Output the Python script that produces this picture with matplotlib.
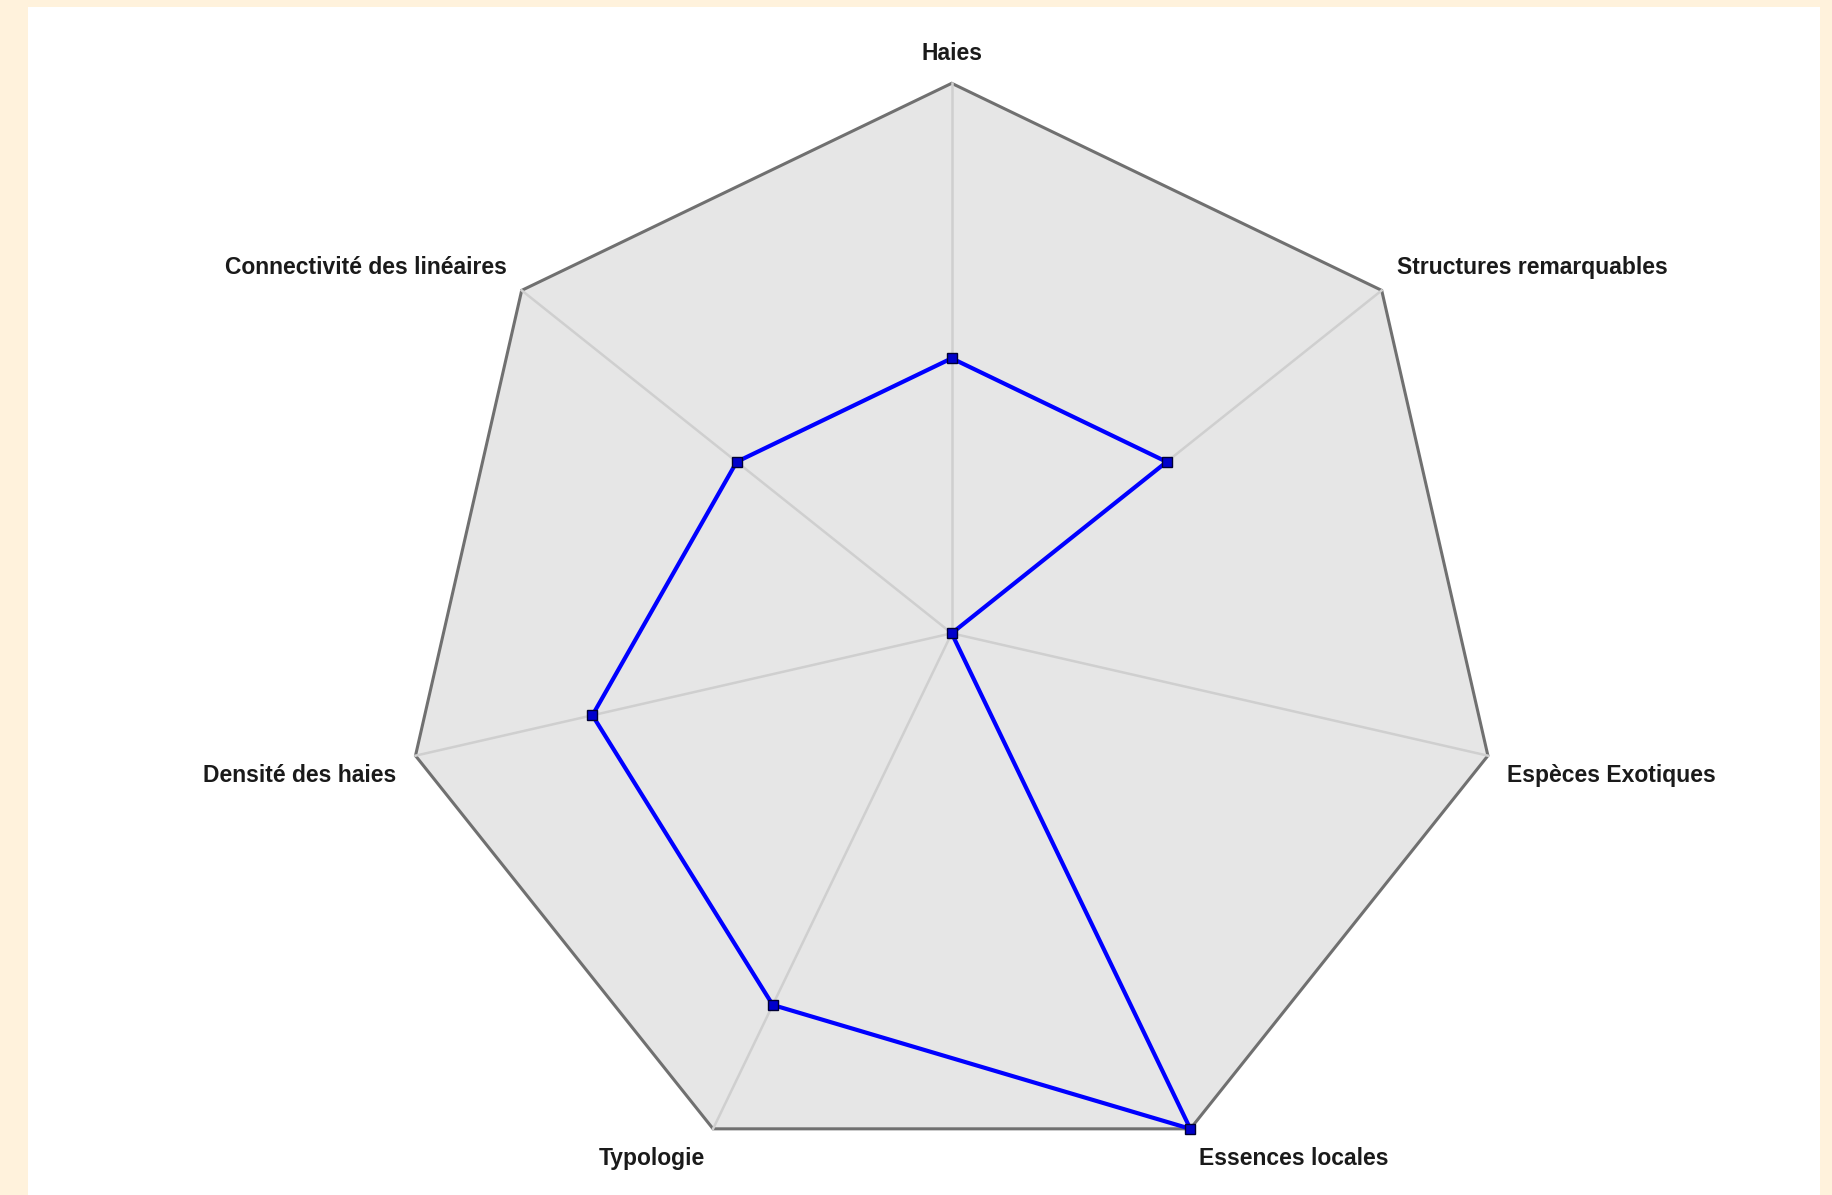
import matplotlib.pyplot as plt
from matplotlib.patches import Rectangle, Polygon
import numpy as np

# axes of the radar, clockwise from the top
labels = ["Haies", "Structures remarquables", "Espèces Exotiques", "Essences locales",
          "Typologie", "Densité des haies", "Connectivité des linéaires"]
values = [0.5, 0.5, 0.0, 1.0, 0.75, 0.67, 0.5]
max_value = 1.0

W, H = 1833, 1195
cx, cy, R = 951.7, 633.3, 550.0   # centre and radius in pixels

# vertical nudge of each label (points), clockwise like labels
label_dy = [1.5, 4, -10, -3.5, -3.5, -10, 4]

fig = plt.figure(figsize=(W / 100, H / 100), dpi=100)
fig.patch.set_facecolor("#fff2dc")
fig.patches.append(Rectangle((28 / W, 0), (1820 - 28) / W, (H - 7) / H,
                             transform=fig.transFigure, facecolor="white",
                             edgecolor="none", zorder=0))

ax = fig.add_axes([0, 0, 1, 1])
ax.set_zorder(2)
ax.set_xlim(-cx / R, (W - cx) / R)
ax.set_ylim(-(H - cy) / R, cy / R)
ax.set_aspect("equal")
ax.axis("off")
ax.patch.set_alpha(0)

n = len(labels)
angles = np.pi / 2 - np.arange(n) * 2 * np.pi / n
ux, uy = np.cos(angles), np.sin(angles)

# background heptagon
ax.add_patch(Polygon(np.column_stack([ux, uy]), closed=True, facecolor="#e6e6e6",
                     edgecolor="#707070", linewidth=2.2, zorder=1))

# spokes
for x, y in zip(ux, uy):
    ax.plot([0, x], [0, y], color="#cfcfcf", linewidth=1.8, zorder=2)

# data line
r = np.array(values) / max_value
px, py = r * ux, r * uy
ax.plot(np.append(px, px[0]), np.append(py, py[0]), color="#0000ff", linewidth=3.0, zorder=3)
ax.plot(px, py, linestyle="none", marker="s", markersize=6.5, markerfacecolor="#0000cc",
        markeredgecolor="#000033", markeredgewidth=1.0, zorder=4)

# labels
for lab, x, y, dy in zip(labels, ux, uy, label_dy):
    if x > 0.01:
        ha = "left"
    elif x < -0.01:
        ha = "right"
    else:
        ha = "center"
    ax.annotate(lab, (1.035 * x, 1.05 * y), xytext=(0, dy), textcoords="offset points",
                ha=ha, va="center", fontsize=16.5, fontweight="bold",
                family="Liberation Sans", color="#1a1a1a", zorder=5)

plt.savefig("out.png", dpi=100, facecolor=fig.get_facecolor())
